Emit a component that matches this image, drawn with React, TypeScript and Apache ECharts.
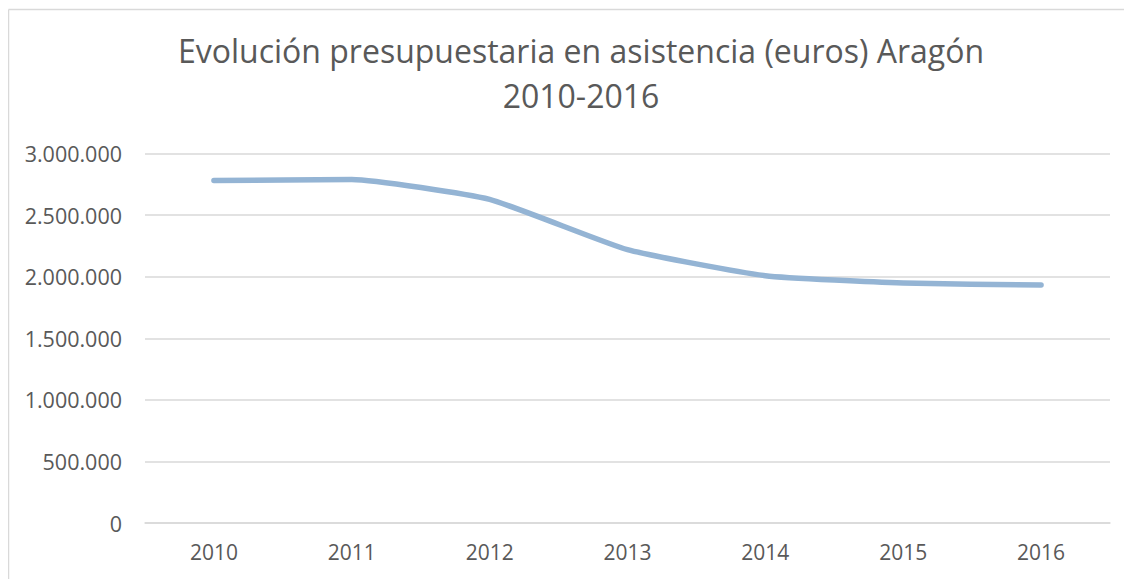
import React, { useEffect, useRef } from "react";
import * as echarts from "echarts";

const categories = ["2010", "2011", "2012", "2013", "2014", "2015", "2016"];
const values = [2781000, 2789000, 2627000, 2219000, 2008000, 1948000, 1932000];
const titleText = "Evolución presupuestaria en asistencia (euros) Aragón\n2010-2016";

const fmt = (v: number) => String(Math.round(v)).replace(/\B(?=(\d{3})+(?!\d))/g, ".");

export default function App() {
  const ref = useRef<HTMLDivElement>(null);
  useEffect(() => {
    if (!ref.current) return;
    const chart = echarts.init(ref.current, null, { renderer: "svg" });
    chart.setOption({
      animation: false,
      backgroundColor: "#ffffff",
      textStyle: { fontFamily: "Open Sans" },
      title: {
        text: titleText,
        left: 568,
        top: 15,
        textAlign: "center",
        textStyle: {
          fontFamily: "Open Sans",
          fontSize: 32,
          fontWeight: "normal",
          color: "#595959",
          lineHeight: 45,
        },
      },
      graphic: [
        { type: "line", shape: { x1: 0.5, y1: 1.5, x2: 0.5, y2: 571 }, style: { stroke: "#d9d9d9", lineWidth: 1.5 } },
        { type: "line", shape: { x1: 0.5, y1: 1.5, x2: 1124, y2: 1.5 }, style: { stroke: "#d9d9d9", lineWidth: 1.5 } },
      ],
      grid: { left: 137, right: 22, top: 145.5, bottom: 56, containLabel: false },
      xAxis: {
        type: "category",
        data: categories,
        boundaryGap: true,
        axisLine: { show: true, lineStyle: { color: "#d9d9d9", width: 1.5 } },
        axisTick: { show: false },
        axisLabel: { color: "#595959", fontSize: 21, margin: 18, fontFamily: "Open Sans" },
      },
      yAxis: {
        type: "value",
        min: 0,
        max: 3000000,
        interval: 500000,
        axisLine: { show: false },
        axisTick: { show: false },
        splitLine: { lineStyle: { color: "#d9d9d9", width: 1.5 } },
        axisLabel: { color: "#595959", fontSize: 21.5, margin: 23, fontFamily: "Open Sans", formatter: (v: number) => fmt(v) },
      },
      series: [
        {
          type: "line",
          data: values,
          smooth: 0.15,
          symbol: "none",
          lineStyle: { color: "#94b4d4", width: 5.5, cap: "round", join: "round" },
        },
      ],
    });
    return () => chart.dispose();
  }, []);
  return <div ref={ref} style={{ width: 1124, height: 571 }} />;
}
